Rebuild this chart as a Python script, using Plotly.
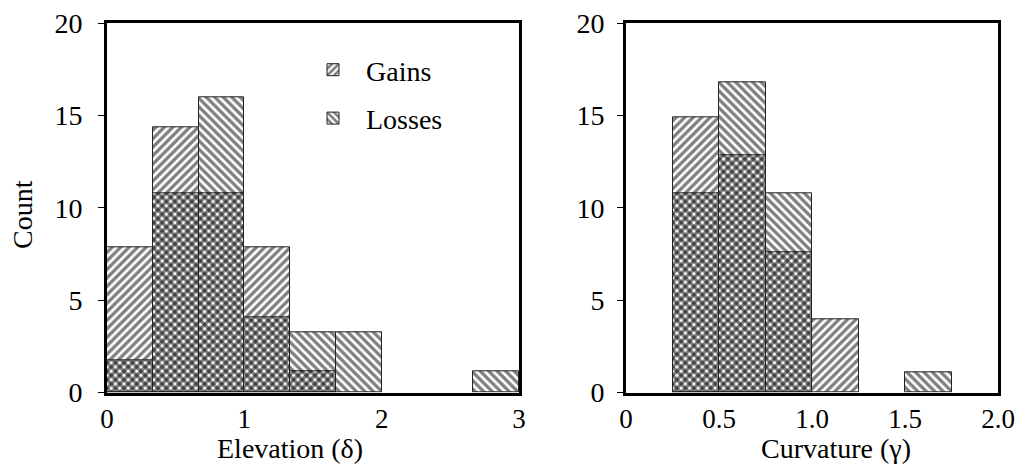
import plotly.graph_objects as go

# ---- data ----
elev_bin_start = [0, 1/3, 2/3, 1, 4/3, 5/3, 8/3]
elev_bin_width = 1/3
elev_gains = [7.84, 14.34, 10.79, 7.84, 1.13, None, None]
elev_losses = [1.76, 10.79, 16.0, 4.1, 3.24, 3.24, 1.16]

curv_bin_start = [0.25, 0.5, 0.75, 1.0, 1.5]
curv_bin_width = 0.25
curv_gains = [14.9, 12.83, 7.57, 3.98, None]
curv_losses = [10.8, 16.8, 10.8, None, 1.09]

y_ticks = [0, 5, 10, 15, 20]
elev_ticks = [0, 1, 2, 3]
elev_ticktext = ["0", "1", "2", "3"]
curv_ticks = [0, 0.5, 1.0, 1.5, 2.0]
curv_ticktext = ["0", "0.5", "1.0", "1.5", "2.0"]

FONT = "Liberation Serif"
W, H = 1021, 470

fig = go.Figure()

def px_x(p):
    return p / W

def px_y(p):
    return 1 - p / H

def bars(x, y, width, name, shape, xa, ya, show):
    return go.Bar(
        x=x, y=y, width=width, offset=0, name=name,
        xaxis=xa, yaxis=ya, showlegend=show, legendgroup=name,
        hoverinfo="skip",
        marker=dict(
            color="rgba(0,0,0,0)",
            line=dict(color="#222", width=1),
            pattern=dict(shape=shape, size=6, solidity=0.55,
                         fgcolor="black", bgcolor="rgba(0,0,0,0)",
                         fillmode="overlay"),
        ),
    )

fig.add_trace(bars(elev_bin_start, elev_gains, elev_bin_width, "Gains", "/", "x", "y", True))
fig.add_trace(bars(elev_bin_start, elev_losses, elev_bin_width, "Losses", "\\", "x", "y", True))
fig.add_trace(bars(curv_bin_start, curv_gains, curv_bin_width, "Gains", "/", "x2", "y2", False))
fig.add_trace(bars(curv_bin_start, curv_losses, curv_bin_width, "Losses", "\\", "x2", "y2", False))

ydom = [px_y(392.5), px_y(23.3)]
axis_common = dict(showline=True, linecolor="black", linewidth=3, mirror=True,
                   showgrid=False, zeroline=False, automargin=False)
yfont = dict(family=FONT, size=28, color="black")
xfont = dict(family=FONT, size=27, color="black")

fig.update_layout(
    width=W, height=H,
    margin=dict(l=0, r=0, t=0, b=0, autoexpand=False),
    paper_bgcolor="white", plot_bgcolor="white",
    barmode="overlay", bargap=0,
    font=dict(family=FONT, size=28, color="black"),
    xaxis=dict(domain=[px_x(107), px_x(519)], range=[0, 3], tickvals=elev_ticks,
               ticktext=elev_ticktext, ticks="", anchor="y", tickfont=xfont, **axis_common),
    yaxis=dict(domain=ydom, range=[0, 20], tickvals=y_ticks, ticks="outside",
               ticklen=6, tickwidth=1, tickcolor="black", anchor="x",
               ticklabelstandoff=10, tickfont=yfont, **axis_common),
    xaxis2=dict(domain=[px_x(626), px_x(998)], range=[0, 2], tickvals=curv_ticks,
                ticktext=curv_ticktext, ticks="", anchor="y2", tickfont=xfont, **axis_common),
    yaxis2=dict(domain=ydom, range=[0, 20], tickvals=y_ticks, ticks="outside",
                ticklen=6, tickwidth=1, tickcolor="black", anchor="x2",
                ticklabelstandoff=7, tickfont=yfont, **axis_common),
    legend=dict(x=px_x(300), y=px_y(45), xanchor="left", yanchor="top",
                bgcolor="rgba(0,0,0,0)", font=dict(family=FONT, size=28),
                itemwidth=56, traceorder="grouped", tracegroupgap=9),
    annotations=[
        dict(text="Elevation (δ)", x=px_x(290), y=px_y(448), xref="paper", yref="paper",
             showarrow=False, font=dict(family=FONT, size=28), xanchor="center", yanchor="middle"),
        dict(text="Curvature (γ)", x=px_x(836), y=px_y(448), xref="paper", yref="paper",
             showarrow=False, font=dict(family=FONT, size=28), xanchor="center", yanchor="middle"),
        dict(text="Count", x=px_x(23), y=px_y(215), xref="paper", yref="paper", textangle=-90,
             showarrow=False, font=dict(family=FONT, size=28), xanchor="center", yanchor="middle"),
    ],
)

fig.write_html("out.html", post_script="document.body.style.margin='0';",
               config={"displayModeBar": False})
